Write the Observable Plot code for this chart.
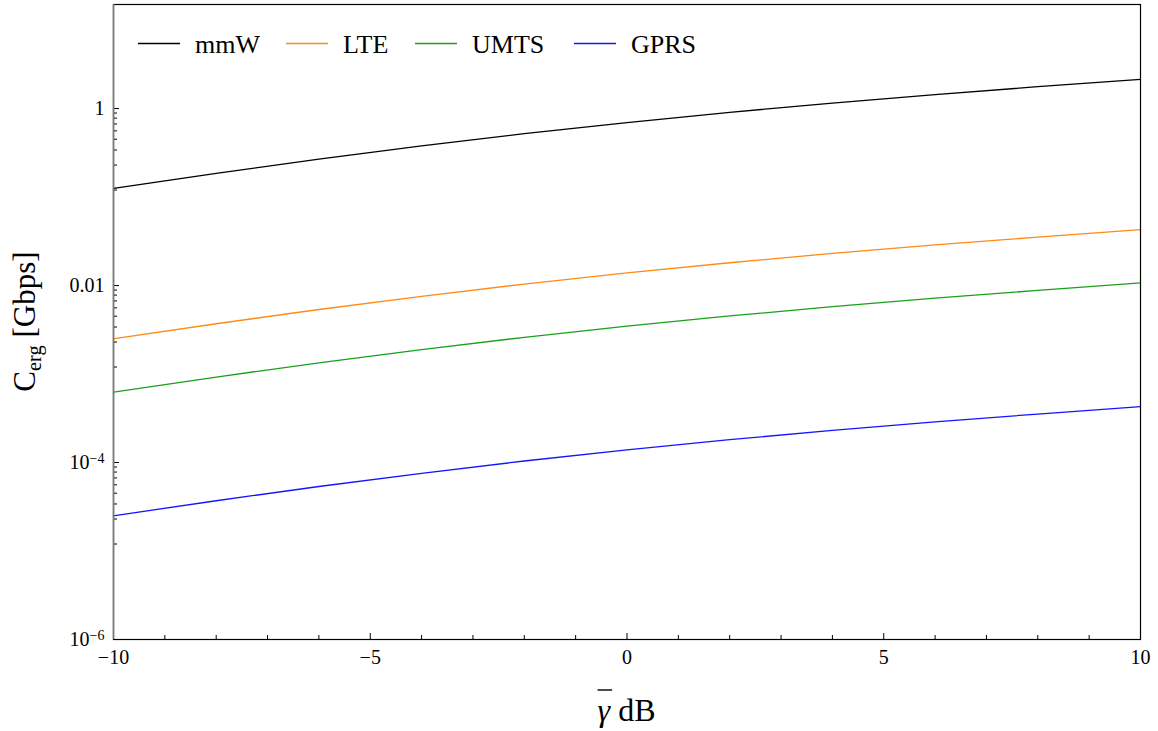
<!DOCTYPE html>
<html>
<head>
<meta charset="utf-8">
<script src="https://cdn.jsdelivr.net/npm/d3@7"></script>
<script src="https://cdn.jsdelivr.net/npm/@observablehq/plot@0.6"></script>
<style>
  body { margin: 0; background: #fff; }
  #chart svg { font-family: "Liberation Serif", "Times New Roman", serif; }
</style>
</head>
<body>
<div id="chart"></div>
<script>
// Average SNR (dB) at which the ergodic capacity is sampled
const snrDb = [-10, -8, -6, -4, -2, 0, 2, 4, 6, 8, 10];

// Ergodic capacity in Gbps for each radio technology
const mmW  = [0.125, 0.185, 0.268, 0.378, 0.520, 0.695, 0.906, 1.153, 1.439, 1.766, 2.14];
const LTE  = [0.00250, 0.00370, 0.00536, 0.00756, 0.0104, 0.0139, 0.0181, 0.0231, 0.0288, 0.0353, 0.0428];
const UMTS = [0.000625, 0.000925, 0.00134, 0.00189, 0.00260, 0.00348, 0.00453, 0.00577, 0.00720, 0.00883, 0.0107];
const GPRS = [2.50e-5, 3.70e-5, 5.36e-5, 7.56e-5, 1.04e-4, 1.39e-4, 1.81e-4, 2.31e-4, 2.88e-4, 3.53e-4, 4.28e-4];

const seriesNames  = ["mmW", "LTE", "UMTS", "GPRS"];
const seriesValues = [mmW, LTE, UMTS, GPRS];
const seriesColors = ["#000000", "#ff8a14", "#19a019", "#1414ff"];

// Tick values and labels
const xTicksMajor = [-10, -5, 0, 5, 10];
const xTicksMinor = [-9, -8, -7, -6, -4, -3, -2, -1, 1, 2, 3, 4, 6, 7, 8, 9];
const yTicksMajor = [1e-6, 1e-4, 1e-2, 1];
const yTickLabels = ["10^−6", "10^−4", "0.01", "1"];

// Minor y ticks: eight evenly spaced values inside each two-decade span
const yTicksMinor = [];
for (let i = 1; i < yTicksMajor.length; i++) {
  const lo = yTicksMajor[i - 1], hi = yTicksMajor[i];
  for (let n = 1; n <= 8; n++) yTicksMinor.push(lo + n * (hi - lo) / 9);
}

const rows = seriesNames.flatMap((name, s) =>
  snrDb.map((x, i) => ({ series: name, snr: x, cap: seriesValues[s][i] }))
);

const W = 1158, H = 731;
const M = { left: 113, right: 18, top: 4, bottom: 92 };
const FONT = '"Liberation Serif", "Times New Roman", serif';

const chart = Plot.plot({
  width: W,
  height: H,
  marginLeft: M.left,
  marginRight: M.right,
  marginTop: M.top,
  marginBottom: M.bottom,
  style: { fontFamily: FONT, fontSize: "20px", background: "#fff", color: "#000" },
  x: { domain: [-10, 10] },
  y: { type: "log", domain: [1e-6, 15] },
  color: { domain: seriesNames, range: seriesColors },
  marks: [
    Plot.line(rows, { x: "snr", y: "cap", z: "series", stroke: "series", strokeWidth: 1.3, curve: "monotone-x" }),
    // inward ticks on the bottom edge
    Plot.axisX({ ticks: xTicksMinor, tickSize: 4, dy: -4, fill: null, label: null, strokeWidth: 1 }),
    Plot.axisX({ ticks: xTicksMajor, tickSize: 6, dy: -6, fill: null, label: null, strokeWidth: 1 }),
    Plot.axisX({ ticks: xTicksMajor, tickSize: 0, tickPadding: 10, label: null, fontSize: 20, fontFamily: FONT }),
    // inward ticks on the left edge
    Plot.axisY({ ticks: yTicksMinor, tickSize: 4, dx: 4, fill: null, label: null, strokeWidth: 1 }),
    Plot.axisY({ ticks: yTicksMajor, tickSize: 6, dx: 6, fill: null, label: null, strokeWidth: 1 }),
    Plot.axisY({ ticks: yTicksMajor, tickSize: 0, tickPadding: 9, label: null, fontSize: 20, fontFamily: FONT,
                 tickFormat: d => yTickLabels[yTicksMajor.indexOf(d)] }),
    Plot.frame({ stroke: "#000", strokeWidth: 1.2 }),
    Plot.ruleX([-10], { stroke: "#7a7a7a", strokeWidth: 1.6 })
  ]
});

document.getElementById("chart").appendChild(chart);
const svg = d3.select(chart);
svg.attr("font-family", FONT);

// Power-of-ten tick labels get a raised exponent
svg.selectAll("text").each(function () {
  d3.select(this).attr("font-family", FONT);
  const t = this.textContent;
  const m = /^10\^(.+)$/.exec(t);
  if (!m) return;
  const el = d3.select(this);
  el.text("10");
  el.append("tspan").attr("dy", "-0.45em").attr("font-size", "0.7em").text(m[1]);
});

// Y axis title: C_erg [Gbps]
const yTitle = svg.append("text")
  .attr("transform", `translate(35,${(M.top + H - M.bottom) / 2}) rotate(-90)`)
  .attr("text-anchor", "middle")
  .attr("font-family", FONT)
  .attr("font-size", 31)
  .attr("fill", "#000");
yTitle.append("tspan").text("C");
yTitle.append("tspan").attr("font-size", "0.66em").attr("dy", "0.3em").text("erg");
yTitle.append("tspan").attr("dy", "-0.2em").text(" [Gbps]");

// X axis title: mean SNR in dB, with a bar over the gamma
const xMid = M.left + (W - M.left - M.right) / 2;
const xTitle = svg.append("text")
  .attr("x", xMid)
  .attr("y", 721)
  .attr("text-anchor", "middle")
  .attr("font-family", FONT)
  .attr("font-size", 32)
  .attr("fill", "#000");
xTitle.append("tspan").attr("font-style", "italic").text("γ");
xTitle.append("tspan").text(" dB");
const gStart = xTitle.node().getStartPositionOfChar(0).x;
const gEnd = xTitle.node().getEndPositionOfChar(0).x;
svg.append("line")
  .attr("x1", gStart).attr("x2", gEnd + 2)
  .attr("y1", 690).attr("y2", 690)
  .attr("stroke", "#000").attr("stroke-width", 1.4);

// Legend across the top of the frame
const legendStarts = [138, 286, 415, 574];
const legend = svg.append("g")
  .attr("font-family", FONT)
  .attr("font-size", 26)
  .attr("text-anchor", "start");
const ly = 43.5;
seriesNames.forEach((name, i) => {
  const lx = legendStarts[i];
  legend.append("line")
    .attr("x1", lx).attr("x2", lx + 42).attr("y1", ly).attr("y2", ly)
    .attr("stroke", seriesColors[i]).attr("stroke-width", 1.3);
  legend.append("text")
    .attr("x", lx + 57).attr("y", ly + 9)
    .attr("text-anchor", "start")
    .attr("fill", "#000").text(name);
});
</script>
</body>
</html>
